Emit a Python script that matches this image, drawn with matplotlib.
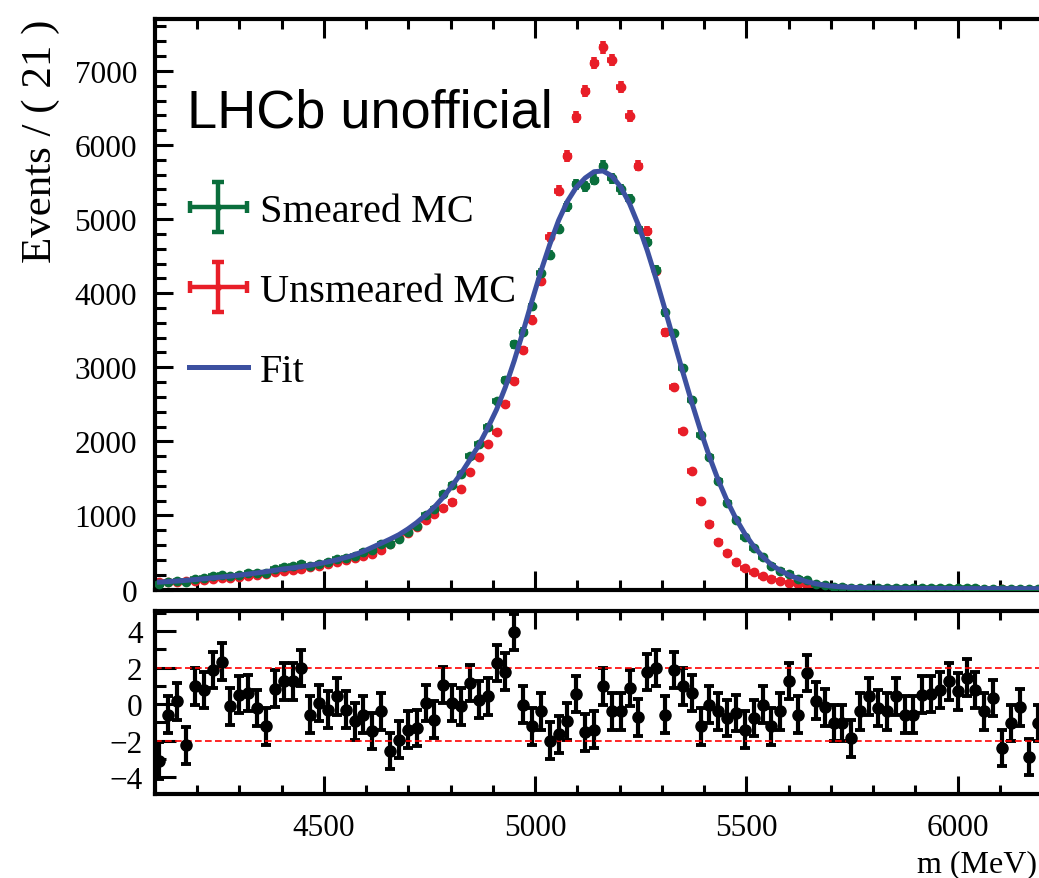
import numpy as np
import matplotlib.pyplot as plt
from matplotlib.ticker import MultipleLocator
from matplotlib.legend_handler import HandlerErrorbar

# histogram binning (MeV)
m_lo, m_hi, n_bins = 4100, 6200, 100

smeared = [69, 101, 117, 99, 145, 154, 180, 199, 179, 201,
           217, 221, 222, 273, 299, 312, 343, 318, 350, 367,
           408, 426, 448, 502, 534, 614, 613, 687, 776, 864,
           1006, 1085, 1284, 1405, 1561, 1801, 1958, 2198, 2538, 2825,
           3309, 3482, 3820, 4268, 4520, 4864, 5172, 5471, 5440, 5534,
           5722, 5552, 5405, 5272, 4868, 4692, 4316, 3742, 3464, 2988,
           2560, 2090, 1792, 1461, 1171, 940, 713, 564, 443, 311,
           249, 213, 138, 122, 80, 57, 37, 29, 19, 23,
           24, 19, 17, 20, 15, 14, 17, 17, 17, 19,
           15, 18, 15, 11, 13, 3, 8, 10, 1, 7]

unsmeared = [98, 100, 106, 115, 120, 128, 137, 150, 158, 170,
             184, 200, 212, 232, 248, 265, 283, 302, 322, 340,
             372, 400, 425, 448, 480, 540, 610, 690, 760, 845,
             935, 1020, 1100, 1180, 1360, 1585, 1790, 1960, 2125, 2500,
             2820, 3230, 3640, 4165, 4755, 5380, 5850, 6380, 6730, 7110,
             7320, 7150, 6780, 6390, 5720, 4840, 4300, 3470, 2730, 2135,
             1600, 1195, 880, 640, 490, 370, 295, 240, 185, 140,
             110, 88, 70, 55, 42, 30, 20, 13, 8, 5,
             4, 3, 2, 2, 2, 1, 1, 1, 1, 1,
             1, 0, 1, 0, 0, 1, 0, 0, 0, 0]

fit = [100, 107, 115, 124, 134, 145, 157, 169, 181, 194,
       208, 224, 241, 259, 278, 291, 309, 328, 349, 373,
       400, 432, 469, 515, 570, 624, 680, 740, 816, 903,
       1004, 1113, 1247, 1403, 1566, 1753, 1947, 2178, 2428, 2732,
       3089, 3484, 3896, 4294, 4656, 4982, 5241, 5430, 5555, 5639,
       5650, 5582, 5434, 5209, 4919, 4574, 4189, 3778, 3356, 2936,
       2530, 2147, 1794, 1476, 1197, 955, 751, 582, 444, 333,
       255, 195, 145, 105, 78, 58, 44, 35, 29, 25,
       22, 20, 19, 18, 17, 16, 15, 15, 14, 14,
       13, 13, 12, 12, 12, 11, 11, 11, 10, 10]

pulls = [-3.1, -0.58, 0.15, -2.27, 0.96, 0.78, 1.87, 2.33, -0.13, 0.51,
         0.6, -0.22, -1.22, 0.84, 1.24, 1.24, 1.96, -0.58, 0.05, -0.31,
         0.42, -0.31, -0.95, -0.58, -1.49, -0.4, -2.58, -1.95, -1.4, -1.31,
         0.05, -0.85, 1.05, 0.05, -0.13, 1.15, 0.24, 0.42, 2.24, 1.78,
         3.96, -0.04, -1.22, -0.4, -2.0, -1.67, -0.95, 0.55, -1.55, -1.4,
         0.96, -0.4, -0.4, 0.87, -0.73, 1.75, 1.96, -0.58, 1.87, 0.96,
         0.6, -1.22, -0.04, -0.4, -0.76, -0.49, -1.4, -0.76, -0.04, -1.22,
         -0.4, 1.27, -0.58, 1.69, 0.18, -0.18, -1.04, -1.04, -1.89, -0.4,
         0.42, -0.22, -0.4, 0.42, -0.58, -0.58, 0.51, 0.55, 0.78, 1.24,
         0.69, 1.45, 0.78, -0.4, 0.33, -2.4, -1.04, -0.18, -2.91, -1.04]

green = '#0a6e3c'
red = '#e81e28'
blue = '#3c50a0'

plt.rcParams['font.family'] = 'Liberation Serif'

bw = (m_hi - m_lo) / n_bins
m = m_lo + bw * (np.arange(n_bins) + 0.5)
smeared = np.array(smeared, dtype=float)
unsmeared = np.array(unsmeared, dtype=float)

# the original is cropped on the right: let the frame run past the edge
x_view = 6230

fig = plt.figure(figsize=(10.39, 8.79), dpi=100)
ax = fig.add_axes([0.1492, 0.3282, 0.8659, 0.6490])
axp = fig.add_axes([0.1492, 0.0956, 0.8659, 0.2082])

ax.errorbar(m, unsmeared, xerr=bw / 2, yerr=np.sqrt(unsmeared), fmt='o', ms=6,
            color=red, elinewidth=4, capsize=0, zorder=2)
ax.errorbar(m, smeared, xerr=bw / 2, yerr=np.sqrt(smeared), fmt='o', ms=6,
            color=green, elinewidth=4, capsize=0, zorder=3)
h_fit, = ax.plot(m, fit, color=blue, lw=3.6, zorder=4)

# legend proxies with caps
h_s = ax.errorbar([np.nan], [np.nan], xerr=[1], yerr=[1], fmt='o', ms=4, color=green,
                  elinewidth=3.2, capsize=4, capthick=3.2)
h_u = ax.errorbar([np.nan], [np.nan], xerr=[1], yerr=[1], fmt='o', ms=4, color=red,
                  elinewidth=3.2, capsize=4, capthick=3.2)
hand = HandlerErrorbar(xerr_size=0.7, yerr_size=0.62)
ax.legend([h_s, h_u, h_fit], ['Smeared MC', 'Unsmeared MC', 'Fit'],
          loc='upper left', bbox_to_anchor=(0.038, 0.695), frameon=False,
          fontsize=29, handlelength=1.45, handletextpad=0.3, labelspacing=1.06,
          borderpad=0, borderaxespad=0, handler_map={h_s: hand, h_u: hand})

ax.text(0.035, 0.812, 'LHCb unofficial', transform=ax.transAxes, fontsize=39,
        family='Liberation Sans', va='baseline')

ax.set_xlim(m_lo, x_view)
ax.set_ylim(0, 7700)
ax.xaxis.set_major_locator(MultipleLocator(500))
ax.xaxis.set_minor_locator(MultipleLocator(100))
ax.yaxis.set_major_locator(MultipleLocator(1000))
ax.yaxis.set_minor_locator(MultipleLocator(200))
ax.tick_params(which='both', direction='in', top=True, right=False, width=2.2, labelsize=22.5)
ax.tick_params(axis='x', labelbottom=False)
ax.tick_params(axis='x', which='major', length=14)
ax.tick_params(axis='x', which='minor', length=7)
ax.tick_params(axis='y', which='major', length=13, pad=13)
ax.tick_params(axis='y', which='minor', length=8)
ax.set_ylabel('Events / ( 21 )', fontsize=31, loc='top')
ax.yaxis.set_label_coords(-0.106, 1.0)

# pull panel
axp.errorbar(m, pulls, yerr=1, fmt='o', color='black', ms=8, elinewidth=3,
             capsize=3.5, capthick=2.8)
axp.axhline(2, color='red', ls=(0, (4, 2)), lw=1.2)
axp.axhline(-2, color='red', ls=(0, (4, 2)), lw=1.2)
axp.set_xlim(m_lo, x_view)
axp.set_ylim(-4.93, 5.1)
axp.xaxis.set_major_locator(MultipleLocator(500))
axp.xaxis.set_minor_locator(MultipleLocator(100))
axp.yaxis.set_major_locator(MultipleLocator(2))
axp.yaxis.set_minor_locator(MultipleLocator(1))
axp.tick_params(which='both', direction='in', top=True, right=False, width=2.2, labelsize=22.5)
axp.tick_params(axis='x', which='major', length=13, pad=14)
axp.tick_params(axis='x', which='minor', length=6.5)
axp.tick_params(axis='y', which='major', length=15, pad=9)
axp.tick_params(axis='y', which='minor', length=8)
axp.set_xlabel('m (MeV)', fontsize=23, loc='right')
axp.xaxis.set_label_coords(0.980, -0.30)

for a in (ax, axp):
    for s in a.spines.values():
        s.set_linewidth(3)

fig.savefig('out.png', dpi=100)
